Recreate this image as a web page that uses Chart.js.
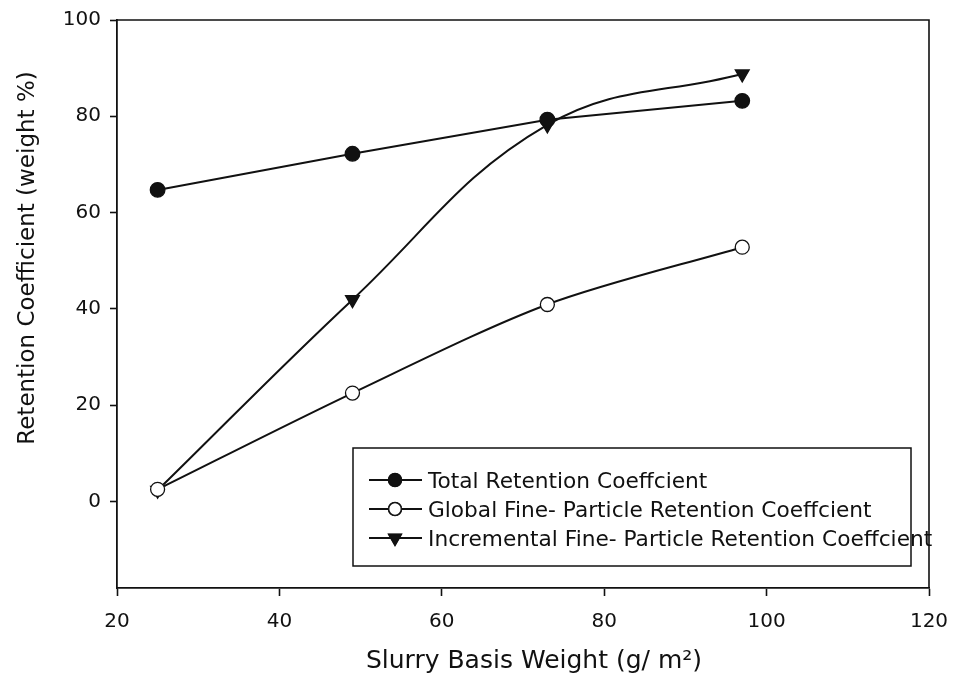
<!DOCTYPE html>
<html>
<head>
<meta charset="utf-8">
<script src="https://cdn.jsdelivr.net/npm/chart.js@4.4.1/dist/chart.umd.min.js"></script>
<style>
  html, body { margin: 0; padding: 0; background: #ffffff; }
  #wrap { width: 953px; height: 688px; }
</style>
</head>
<body>
<div id="wrap"><canvas id="chart" width="953" height="688"></canvas></div>
<script>
// Slurry basis weight (g/m²)
const basisWeight = [25, 49, 73, 97];
// Retention coefficients (weight %)
const totalRetention = [64.7, 72.2, 79.3, 83.2];
const globalFineRetention = [2.5, 22.5, 40.9, 52.8];
const incrementalFineRetention = [2.3, 41.9, 78.2, 88.8];

const xTicks = [20, 40, 60, 80, 100, 120];
const yTicks = [0, 20, 40, 60, 80, 100];

const seriesNames = [
  'Total Retention Coeffcient',
  'Global Fine- Particle Retention Coeffcient',
  'Incremental Fine- Particle Retention Coeffcient'
];
const xTitle = 'Slurry Basis Weight (g/ m²)';
const yTitle = 'Retention Coefficient (weight %)';

const FONT = '"DejaVu Sans", Verdana, sans-serif';
const INK = '#111';

function pts(ys) { return basisWeight.map((x, i) => ({ x, y: ys[i] })); }

// Frame along the top and right of the plotting area
const framePlugin = {
  id: 'frame',
  afterDraw(chart) {
    const { ctx, chartArea: a } = chart;
    ctx.save();
    ctx.strokeStyle = INK;
    ctx.lineWidth = 1.6;
    ctx.beginPath();
    ctx.moveTo(a.left, a.top);
    ctx.lineTo(a.right, a.top);
    ctx.lineTo(a.right, a.bottom);
    ctx.stroke();
    ctx.restore();
  }
};

// Axis titles
const axisTitlePlugin = {
  id: 'axisTitles',
  afterDraw(chart) {
    const { ctx } = chart;
    ctx.save();
    ctx.fillStyle = INK;
    ctx.textAlign = 'center';
    ctx.textBaseline = 'alphabetic';
    ctx.font = '25px ' + FONT;
    ctx.fillText(xTitle, 534, 668);
    ctx.translate(34, 258);
    ctx.rotate(-Math.PI / 2);
    ctx.font = '23px ' + FONT;
    ctx.fillText(yTitle, 0, 0);
    ctx.restore();
  }
};

// Boxed legend inside the lower right of the plot
const boxLegendPlugin = {
  id: 'boxLegend',
  afterDatasetsDraw(chart) {
    const { ctx } = chart;
    const box = { left: 353, top: 448, right: 911, bottom: 566 };
    ctx.save();
    ctx.fillStyle = '#fff';
    ctx.fillRect(box.left, box.top, box.right - box.left, box.bottom - box.top);
    ctx.strokeStyle = INK;
    ctx.lineWidth = 1.5;
    ctx.strokeRect(box.left, box.top, box.right - box.left, box.bottom - box.top);
    const rows = [480, 509, 538];
    chart.data.datasets.forEach((ds, i) => {
      const y = rows[i];
      ctx.strokeStyle = INK;
      ctx.lineWidth = 1.9;
      ctx.beginPath();
      ctx.moveTo(369, y);
      ctx.lineTo(422, y);
      ctx.stroke();
      Chart.helpers.drawPoint(ctx, {
        pointStyle: ds.pointStyle,
        radius: ds.pointStyle === 'triangle' ? 7 : 6.3,
        rotation: ds.pointRotation || 0,
        borderWidth: 1.3
      }, 395, y);
      ctx.fillStyle = ds.pointBackgroundColor;
      ctx.strokeStyle = INK;
      ctx.lineWidth = 1.3;
      ctx.fill();
      ctx.stroke();
      ctx.fillStyle = INK;
      ctx.font = '21.7px ' + FONT;
      ctx.textBaseline = 'alphabetic';
      ctx.textAlign = 'left';
      ctx.fillText(seriesNames[i], 428, y + 7.5);
    });
    ctx.restore();
  }
};

const common = {
  borderColor: INK,
  borderWidth: 2,
  pointBorderColor: INK,
  pointBorderWidth: 1.3,
  tension: 0.4,
  showLine: true,
  fill: false
};

new Chart(document.getElementById('chart'), {
  type: 'scatter',
  data: {
    datasets: [
      Object.assign({}, common, {
        label: seriesNames[0],
        data: pts(totalRetention),
        tension: 0,
        pointStyle: 'circle',
        pointRadius: 7.3,
        pointBackgroundColor: INK
      }),
      Object.assign({}, common, {
        label: seriesNames[1],
        data: pts(globalFineRetention),
        tension: 0.3,
        pointStyle: 'circle',
        pointRadius: 7,
        pointBackgroundColor: '#fff'
      }),
      Object.assign({}, common, {
        label: seriesNames[2],
        data: pts(incrementalFineRetention),
        pointStyle: 'triangle',
        pointRotation: 180,
        pointRadius: 8,
        pointBackgroundColor: INK
      })
    ]
  },
  options: {
    responsive: false,
    animation: false,
    layout: { padding: { top: 20, right: 24, bottom: 0, left: 0 } },
    plugins: {
      legend: { display: false },
      tooltip: { enabled: false }
    },
    scales: {
      x: {
        type: 'linear',
        min: 20,
        max: 120,
        afterBuildTicks: s => { s.ticks = xTicks.map(v => ({ value: v })); },
        afterFit: s => { s.height = 100; s.paddingLeft = 0; s.paddingRight = 0; },
        grid: { drawOnChartArea: false, tickLength: 8, tickWidth: 1.6, tickColor: INK },
        border: { color: INK, width: 1.8 },
        ticks: { color: INK, font: { family: FONT, size: 20 }, padding: 14, maxRotation: 0 },
        title: { display: false }
      },
      y: {
        type: 'linear',
        min: -18,
        max: 100,
        afterBuildTicks: s => { s.ticks = yTicks.map(v => ({ value: v })); },
        afterFit: s => { s.width = 117; s.paddingTop = 0; s.paddingBottom = 0; },
        grid: { drawOnChartArea: false, tickLength: 7, tickWidth: 1.6, tickColor: INK },
        border: { color: INK, width: 1.8 },
        ticks: { color: INK, font: { family: FONT, size: 20 }, padding: 9 },
        title: { display: false }
      }
    }
  },
  plugins: [framePlugin, boxLegendPlugin, axisTitlePlugin]
});
</script>
</body>
</html>
